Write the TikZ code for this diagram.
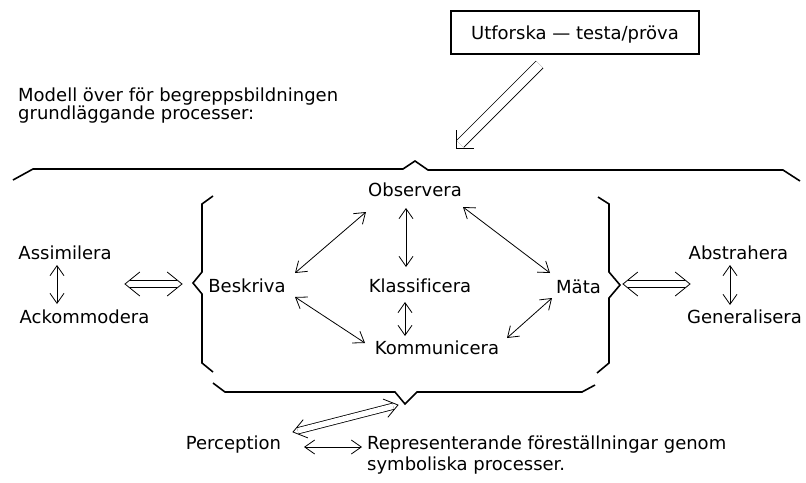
\documentclass[tikz,border=0pt]{standalone}
\usepackage{fontspec}
\setmainfont[Ligatures=NoCommon]{DejaVu Sans}
\usetikzlibrary{arrows.meta,calc}
\tikzset{
  lbl/.style={font=\fontsize{18}{20}\selectfont, inner sep=0pt, anchor=base},
  brk/.style={line width=1.6pt, line join=miter},
  arr/.style={line width=0.8pt, {Straight Barb[length=10pt,width=14pt]}-{Straight Barb[length=10pt,width=14pt]}},
  dshaft/.style={line width=0.8pt, double=white},
  dhead/.style={line width=0.8pt, line join=miter},
}
\newcommand\openhead[4]{% tip, other end, arm length, half angle
  \draw[dhead] ($(#1)!#3!#4:(#2)$) -- (#1) -- ($(#1)!#3!-#4:(#2)$);}
\begin{document}
\begin{tikzpicture}[x=1pt,y=-1pt]
\useasboundingbox (0,0) rectangle (806,482);
% title box
\node[draw, line width=1.2pt, minimum width=248pt, minimum height=43pt, inner sep=0pt,
      font=\fontsize{18}{20}\selectfont, text depth=0pt] (utf) at (575,32.5) {Utforska — testa/pröva};
% caption
\node[font=\fontsize{18}{18}\selectfont, inner sep=0pt, anchor=north west, align=left] (mod) at (18,87.5)
  {Modell över för begreppsbildningen\\grundläggande processer:};
% labels
\node[lbl] (obs) at (415,196) {Observera};
\node[lbl] (bes) at (247,292) {Beskriva};
\node[lbl] (kla) at (420,292) {Klassificera};
\node[lbl] (mat) at (578.5,293) {Mäta};
\node[lbl] (kom) at (437,354) {Kommunicera};
\node[lbl] (ass) at (65,259) {Assimilera};
\node[lbl] (ack) at (84.5,323) {Ackommodera};
\node[lbl] (abs) at (738.5,259) {Abstrahera};
\node[lbl] (gen) at (744.5,323) {Generalisera};
\node[lbl] (per) at (233.5,449) {Perception};
\node[font=\fontsize{18}{21}\selectfont, inner sep=0pt, anchor=north west, align=left] (rep) at (367,435.5)
  {Representerande föreställningar genom\\symboliska processer.};
% braces and brackets
\draw[brk] (13,180) -- (33,169) -- (403,169) -- (415,161) -- (428,170) -- (783,170) -- (800,181);
\draw[brk] (213,196) -- (202,204) -- (202,272) -- (193,283) -- (202,294) -- (202,363) -- (213,372);
\draw[brk] (598,197) -- (609,204) -- (609,272) -- (620,285) -- (609,298) -- (609,363) -- (597,373);
\draw[brk] (213,383) -- (225,392) -- (395,392) -- (405,404) -- (417,392) -- (582,392) -- (595,385);
% connector end points
\coordinate (utfA) at (539.5,64.5);
\coordinate (utfB) at (456,148);
\coordinate (lA) at (125,284);
\coordinate (lB) at (182,284);
\coordinate (rA) at (623,284);
\coordinate (rB) at (690,284);
\coordinate (pA) at (293,432);
\coordinate (pB) at (398,405);
\coordinate (assS) at (57,265);
\coordinate (ackN) at (57,304);
\coordinate (absS) at (730,265);
\coordinate (genN) at (730,305);
\coordinate (obsSW) at (366,212);
\coordinate (besNE) at (295,273);
\coordinate (obsS) at (406,208);
\coordinate (klaN) at (406,267);
\coordinate (obsSE) at (463,207);
\coordinate (matNW) at (550,273);
\coordinate (besSE) at (295,297);
\coordinate (komNW) at (365,343);
\coordinate (klaS) at (405,302);
\coordinate (komN) at (405,336);
\coordinate (matSW) at (552,298);
\coordinate (komNE) at (507,338);
\coordinate (perE) at (304,447);
\coordinate (repW) at (362,447);
% single arrows
\draw[arr] (assS) -- (ackN);
\draw[arr] (absS) -- (genN);
\draw[arr] (obsSW) -- (besNE);
\draw[arr] (obsS) -- (klaN);
\draw[arr] (obsSE) -- (matNW);
\draw[arr] (besSE) -- (komNW);
\draw[arr] (klaS) -- (komN);
\draw[arr] (matSW) -- (komNE);
\draw[arr] (perE) -- (repW);
% double arrows
\draw[dshaft, double distance=9pt, shorten >=6pt] (utfA) -- (utfB);
\openhead{utfB}{utfA}{18pt}{45}
\draw[dshaft, double distance=6.2pt, shorten >=5pt, shorten <=5pt] (lA) -- (lB);
\openhead{lA}{lB}{19pt}{39}
\openhead{lB}{lA}{19pt}{39}
\draw[dshaft, double distance=6.2pt, shorten >=5pt, shorten <=5pt] (rA) -- (rB);
\openhead{rA}{rB}{19pt}{39}
\openhead{rB}{rA}{19pt}{39}
\draw[dshaft, double distance=5.5pt, shorten >=5pt, shorten <=5pt] (pA) -- (pB);
\openhead{pA}{pB}{16pt}{36}
\openhead{pB}{pA}{16pt}{36}
\end{tikzpicture}
\end{document}
